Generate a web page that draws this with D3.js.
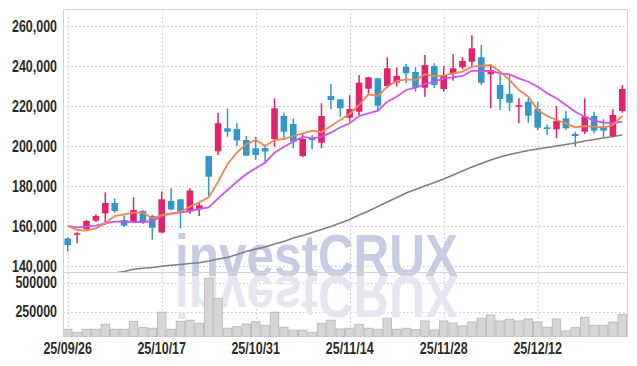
<!DOCTYPE html>
<html>
<head>
<meta charset="utf-8">
<script src="https://cdn.jsdelivr.net/npm/d3@7"></script>
<style>
  body { margin: 0; background: #fff; }
  svg { display: block; }
  .lbl { font-family: "Liberation Sans", Arial, sans-serif; font-weight: bold; font-size: 16px; fill: #2b2b2b; }
</style>
</head>
<body>
<div id="chart"></div>
<script>
const dates = [
  "25/09/26","25/09/29","25/09/30","25/10/01","25/10/02","25/10/10","25/10/13","25/10/14","25/10/15","25/10/16",
  "25/10/17","25/10/20","25/10/21","25/10/22","25/10/23","25/10/24","25/10/27","25/10/28","25/10/29","25/10/30",
  "25/10/31","25/11/03","25/11/04","25/11/05","25/11/06","25/11/07","25/11/10","25/11/11","25/11/12","25/11/13",
  "25/11/14","25/11/17","25/11/18","25/11/19","25/11/20","25/11/21","25/11/24","25/11/25","25/11/26","25/11/27",
  "25/11/28","25/12/01","25/12/02","25/12/03","25/12/04","25/12/05","25/12/08","25/12/09","25/12/10","25/12/11",
  "25/12/12","25/12/15","25/12/16","25/12/17","25/12/18","25/12/19","25/12/22","25/12/23","25/12/24","25/12/26"
];
const openP = [
  153750,155650,158500,162650,166350,171500,163000,162150,167500,165000,
  156750,172500,173350,167500,168500,195000,197350,208850,208500,203000,
  198850,199000,203500,215000,211000,195000,203850,201650,225000,223350,
  214150,217150,228650,233850,230000,231650,239650,237000,229150,240000,
  228500,236350,239350,242150,244350,235850,230500,226000,219650,222150,
  218500,209350,208350,213850,206000,207150,215000,209650,205000,217500
];
const highP = [
  154250,156850,163000,165850,176850,173850,165250,174350,168000,165650,
  177250,178850,173500,178850,171750,195000,216650,218850,211350,205000,
  204500,200750,223850,216650,213850,206350,205500,221350,231000,223500,
  225500,235500,234650,234150,244350,239350,241000,239350,245500,241350,
  240000,246000,244350,255350,250650,240000,236350,236000,223850,223850,
  222150,210850,220000,217500,207150,223850,217150,213350,218350,230500
];
const lowP = [
  147150,151350,158000,162000,160500,166650,159650,161650,161000,153150,
  156350,167750,158850,166000,165000,174650,195500,204650,200000,195000,
  193000,192250,199650,203850,198850,194350,198350,198850,218350,214650,
  212150,215500,226350,217650,228850,229650,231350,227150,224650,229000,
  227150,232650,238350,239650,230500,218850,218000,217650,211350,211650,
  208000,205500,203850,208000,199650,206000,206350,204350,204350,216650
];
const closeP = [
  150500,156350,162500,165000,171500,167500,160150,168000,161750,159150,
  173350,168250,167000,177750,170350,184650,211350,207150,202750,195150,
  195500,197250,218850,207150,202150,203500,203000,215000,223000,218850,
  218500,231650,234350,220150,238850,235000,236350,229150,240500,230500,
  235500,238850,242500,248850,231650,238000,223500,221650,220350,215150,
  209150,208500,212650,208850,205000,214650,207650,207650,215500,228500
];
const volume = [
  98000,72000,98000,98000,141000,98000,98000,167000,115000,107000,
  245000,98000,167000,176000,150000,538000,365000,107000,121000,144000,
  164000,133000,245000,115000,90000,90000,72000,150000,176000,101000,
  107000,141000,107000,98000,193000,98000,107000,97000,170000,92000,
  170000,153000,127000,161000,193000,222000,170000,184000,170000,187000,
  161000,115000,187000,84000,115000,202000,133000,133000,161000,228000
];
const maShort = [
  160000,158000,157650,158850,161350,165000,165850,166650,166650,163850,
  165500,166000,167150,169650,171850,174350,182150,191000,196650,201000,
  203000,200000,203000,203500,205000,206350,207650,206850,210000,213000,
  216000,220500,225850,225000,229650,232500,233350,233000,235850,235000,
  235150,236350,237150,239650,240000,240500,237150,233000,228000,224650,
  218000,215000,213000,211350,209350,210000,209650,209350,210500,215000
];
const maMid = [
  160000,159350,159650,160150,161350,162150,162150,162000,162000,162500,
  165000,166350,166650,167500,168500,169350,173850,178000,182150,186000,
  188850,191650,196650,199650,202150,204650,203850,204650,206650,209350,
  211350,215000,216350,217650,222150,224650,228000,229150,231000,232150,
  233850,234350,235000,237650,237500,237500,236350,235850,233850,232150,
  229650,226350,223850,220500,217150,214650,212650,211650,211350,212150
];
const maLong = [
  null,null,null,null,null,136500,137250,138350,138850,139250,
  139850,140350,140750,141250,141650,142500,143500,144250,145750,147250,
  148500,149500,151000,152250,154000,155250,156750,158250,159750,161500,
  163250,165500,167500,169750,172000,174250,176500,178250,180000,181750,
  183500,185500,187500,189500,191250,193000,194500,195750,196750,197750,
  198500,199250,200000,200750,201500,202500,203250,204000,204750,205500
];
const priceTicks = [140000, 160000, 180000, 200000, 220000, 240000, 260000];
const volTicks = [250000, 500000];
const dateTicks = ["25/09/26", "25/10/17", "25/10/31", "25/11/14", "25/11/28", "25/12/12"];

const width = 637, height = 366;
const padLeft = 63, padRight = 627, padTop = 9, mainBottom = 272, volBottom = 337;
const squeeze = 0.78; // narrow look for the axis labels

const svg = d3.select("#chart").append("svg")
  .attr("width", width)
  .attr("height", height);

const x = d3.scaleBand().domain(dates).range([padLeft, padRight]).paddingInner(0.3).paddingOuter(0.15);
const cx = d => x(d) + x.bandwidth() / 2;
const y = d3.scaleLinear().domain([137000, 268500]).range([mainBottom, padTop]);
const yv = d3.scaleLinear().domain([0, 592000]).range([340.7, mainBottom]);

const defs = svg.append("defs");
defs.append("clipPath").attr("id", "clipMain")
  .append("rect").attr("x", padLeft).attr("y", padTop).attr("width", padRight - padLeft).attr("height", mainBottom - padTop);
defs.append("clipPath").attr("id", "clipVol")
  .append("rect").attr("x", padLeft).attr("y", mainBottom).attr("width", padRight - padLeft).attr("height", volBottom - mainBottom);

// grid
const gridColor = "#c6c9de";
const grid = svg.append("g");
grid.selectAll(".hg").data(priceTicks).join("line")
  .attr("x1", padLeft).attr("x2", padRight)
  .attr("y1", d => y(d) + 0.5).attr("y2", d => y(d) + 0.5)
  .attr("stroke", gridColor).attr("stroke-dasharray", "1.5,2.5");
grid.selectAll(".vg").data(volTicks).join("line")
  .attr("x1", padLeft).attr("x2", padRight)
  .attr("y1", d => Math.round(yv(d)) + 0.5).attr("y2", d => Math.round(yv(d)) + 0.5)
  .attr("stroke", gridColor).attr("stroke-dasharray", "1.5,2.5");
grid.selectAll(".xg").data(dateTicks).join("line")
  .attr("x1", d => Math.round(cx(d)) + 0.5).attr("x2", d => Math.round(cx(d)) + 0.5)
  .attr("y1", padTop).attr("y2", volBottom)
  .attr("stroke", gridColor).attr("stroke-dasharray", "1.5,2.5");

// watermark
const wm = svg.append("g");
wm.append("text")
  .attr("x", 175).attr("y", 275.5)
  .attr("textLength", 283).attr("lengthAdjust", "spacingAndGlyphs")
  .style("font-family", "'Liberation Sans', Arial, sans-serif")
  .style("font-weight", "bold").style("font-size", "59px")
  .attr("fill", "#c7cce5")
  .text("investCRUX");
wm.append("text")
  .attr("x", 175).attr("y", -275.5)
  .attr("transform", "scale(1,-1)")
  .attr("textLength", 283).attr("lengthAdjust", "spacingAndGlyphs")
  .style("font-family", "'Liberation Sans', Arial, sans-serif")
  .style("font-weight", "bold").style("font-size", "59px")
  .attr("fill", "#e5e6f0")
  .text("investCRUX");

// volume bars
const step = x.step();
svg.append("g").attr("clip-path", "url(#clipVol)")
  .selectAll("rect").data(dates).join("rect")
  .attr("x", (d, i) => cx(d) - step / 2 + 0.5)
  .attr("y", (d, i) => yv(volume[i]))
  .attr("width", step - 1)
  .attr("height", (d, i) => volBottom - yv(volume[i]))
  .attr("fill", "#d6d6d6")
  .attr("stroke", "#bdbdbd")
  .attr("stroke-width", 1);

// moving averages
const main = svg.append("g").attr("clip-path", "url(#clipMain)");
const lineOf = arr => d3.line()
  .defined((d, i) => arr[i] != null)
  .x(d => cx(d))
  .y((d, i) => y(arr[i]));

main.append("path").datum(dates)
  .attr("d", lineOf(maLong))
  .attr("fill", "none").attr("stroke", "#7f7f7f").attr("stroke-width", 1.6);

// candles
const up = "#e2226c", down = "#3497c9";
const candles = main.selectAll(".c").data(dates).join("g");
candles.append("line")
  .attr("x1", d => cx(d)).attr("x2", d => cx(d))
  .attr("y1", (d, i) => y(highP[i])).attr("y2", (d, i) => y(lowP[i]))
  .attr("stroke", (d, i) => closeP[i] >= openP[i] ? up : down)
  .attr("stroke-width", 1.5);
candles.append("rect")
  .attr("x", d => cx(d) - x.bandwidth() / 2)
  .attr("width", x.bandwidth())
  .attr("y", (d, i) => y(Math.max(openP[i], closeP[i])))
  .attr("height", (d, i) => Math.max(1.5, Math.abs(y(openP[i]) - y(closeP[i]))))
  .attr("fill", (d, i) => closeP[i] >= openP[i] ? up : down);

main.append("path").datum(dates)
  .attr("d", lineOf(maMid))
  .attr("fill", "none").attr("stroke", "#cc55ea").attr("stroke-width", 1.8);
main.append("path").datum(dates)
  .attr("d", lineOf(maShort))
  .attr("fill", "none").attr("stroke", "#ef8550").attr("stroke-width", 1.8);

// frame
const frame = svg.append("g").attr("stroke", "#d2d2d2").attr("fill", "none");
frame.append("path").attr("d", `M${padLeft + 0.5},${volBottom}V${padTop + 0.5}H${padRight + 0.5}V${volBottom}`);
frame.append("line").attr("x1", padLeft).attr("x2", padRight).attr("y1", mainBottom + 0.5).attr("y2", mainBottom + 0.5);

// axis labels
svg.append("g").selectAll("text").data(priceTicks).join("text")
  .attr("class", "lbl")
  .attr("transform", d => `translate(57,${y(d)}) scale(${squeeze},1)`)
  .attr("text-anchor", "end").attr("dominant-baseline", "central")
  .text(d => d3.format(",")(d));
svg.append("g").selectAll("text").data(volTicks).join("text")
  .attr("class", "lbl")
  .attr("transform", d => `translate(57,${yv(d)}) scale(${squeeze},1)`)
  .attr("text-anchor", "end").attr("dominant-baseline", "central")
  .text(d => d);
svg.append("g").selectAll("text").data(dateTicks).join("text")
  .attr("class", "lbl")
  .attr("transform", d => `translate(${cx(d)},354) scale(${squeeze},1)`)
  .attr("text-anchor", "middle")
  .text(d => d);
</script>
</body>
</html>
